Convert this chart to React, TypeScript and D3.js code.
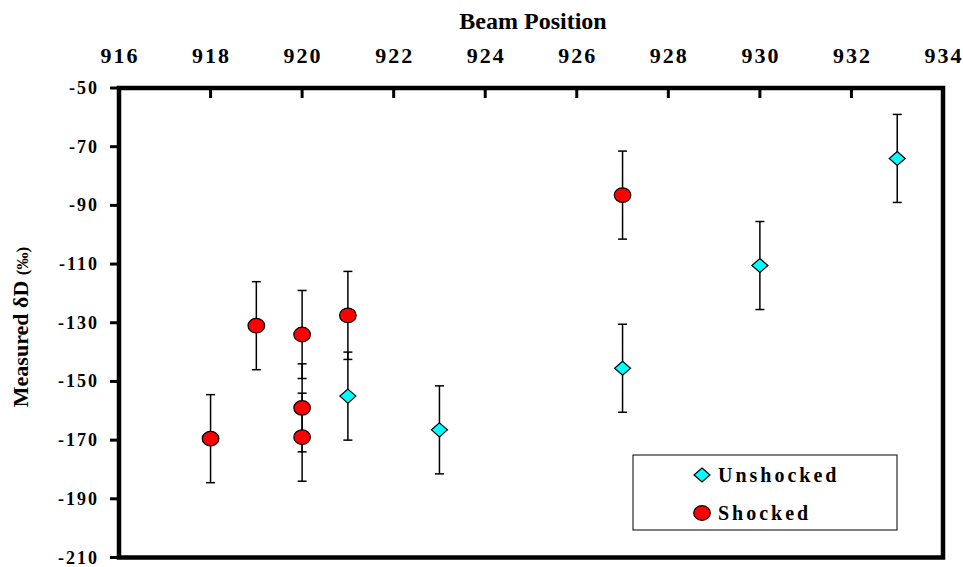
import React from "react";
import * as d3 from "d3";

const xTicks = [916, 918, 920, 922, 924, 926, 928, 930, 932, 934];
const yTicks = [-50, -70, -90, -110, -130, -150, -170, -190, -210];

const shockedX = [918, 919, 920, 920, 920, 921, 927];
const shockedY = [-169.5, -131, -134, -159, -169, -127.5, -86.5];
const shockedErr = [15, 15, 15, 15, 15, 15, 15];

const unshockedX = [921, 923, 927, 930, 933];
const unshockedY = [-155, -166.5, -145.5, -110.5, -74];
const unshockedErr = [15, 15, 15, 15, 15];

const W = 963, H = 567;
const left = 119, right = 943, top = 88, bottom = 557.5;

export default function App() {
  const x = d3.scaleLinear().domain([916, 934]).range([left, right]);
  const y = d3.scaleLinear().domain([-50, -210]).range([top, bottom]);
  const font = "'Liberation Serif', 'Times New Roman', serif";

  const errBar = (cx: number, cy: number, e: number, k: string) => (
    <g key={k} stroke="#000" strokeWidth={1.5}>
      <line x1={x(cx)} x2={x(cx)} y1={y(cy + e)} y2={y(cy - e)} />
      <line x1={x(cx) - 4.5} x2={x(cx) + 4.5} y1={y(cy + e)} y2={y(cy + e)} />
      <line x1={x(cx) - 4.5} x2={x(cx) + 4.5} y1={y(cy - e)} y2={y(cy - e)} />
    </g>
  );
  const diamond = (cx: number, cy: number) =>
    `M${cx},${cy - 7}L${cx + 8},${cy}L${cx},${cy + 7}L${cx - 8},${cy}Z`;

  return (
    <svg width={W} height={H} style={{ position: "absolute", left: 0, top: 0, background: "#fff" }}>
      <rect x={0} y={0} width={W} height={H} fill="#fff" />
      {/* frame */}
      <rect x={left} y={top} width={right - left} height={bottom - top} fill="none" stroke="#000" strokeWidth={4.5} />
      {/* top ticks (inward) */}
      {xTicks.map((t) => (
        <line key={"xt" + t} x1={x(t)} x2={x(t)} y1={top} y2={top + 10} stroke="#000" strokeWidth={3} />
      ))}
      {xTicks.map((t) => (
        <text key={"xl" + t} x={x(t) + 1} y={63} textAnchor="middle" fontFamily={font} fontWeight="bold" fontSize={22} letterSpacing={2}>
          {t}
        </text>
      ))}
      {/* left ticks (outward) */}
      {yTicks.map((t) => (
        <line key={"yt" + t} x1={left - 9} x2={left} y1={y(t)} y2={y(t)} stroke="#000" strokeWidth={3} />
      ))}
      {yTicks.map((t) => (
        <text key={"yl" + t} x={99} y={y(t) + 6} textAnchor="end" fontFamily={font} fontWeight="bold" fontSize={18} letterSpacing={2}>
          {t}
        </text>
      ))}
      <text x={533} y={29} textAnchor="middle" fontFamily={font} fontWeight="bold" fontSize={24}>
        Beam Position
      </text>
      <text transform={`translate(28,327) rotate(-90)`} textAnchor="middle" fontFamily={font} fontWeight="bold" fontSize={22}>
        Measured δD <tspan fontSize={17}>(‰)</tspan>
      </text>
      {/* error bars */}
      {unshockedX.map((v, i) => errBar(v, unshockedY[i], unshockedErr[i], "ue" + i))}
      {shockedX.map((v, i) => errBar(v, shockedY[i], shockedErr[i], "se" + i))}
      {/* markers */}
      {unshockedX.map((v, i) => (
        <path key={"um" + i} d={diamond(x(v), y(unshockedY[i]))} fill="#00FFFF" stroke="#000" strokeWidth={1.2} />
      ))}
      {shockedX.map((v, i) => (
        <ellipse key={"sm" + i} cx={x(v)} cy={y(shockedY[i])} rx={8.3} ry={7.3} fill="#FF0000" stroke="#000" strokeWidth={1.2} />
      ))}
      {/* legend */}
      <rect x={633} y={455} width={264} height={75} fill="#fff" stroke="#000" strokeWidth={1} />
      <path d={diamond(702, 475)} fill="#00FFFF" stroke="#000" strokeWidth={1.2} />
      <text x={718} y={482} fontFamily={font} fontWeight="bold" fontSize={20} letterSpacing={3}>Unshocked</text>
      <ellipse cx={702} cy={513} rx={8.3} ry={7.3} fill="#FF0000" stroke="#000" strokeWidth={1.2} />
      <text x={718} y={520} fontFamily={font} fontWeight="bold" fontSize={20} letterSpacing={3}>Shocked</text>
    </svg>
  );
}
